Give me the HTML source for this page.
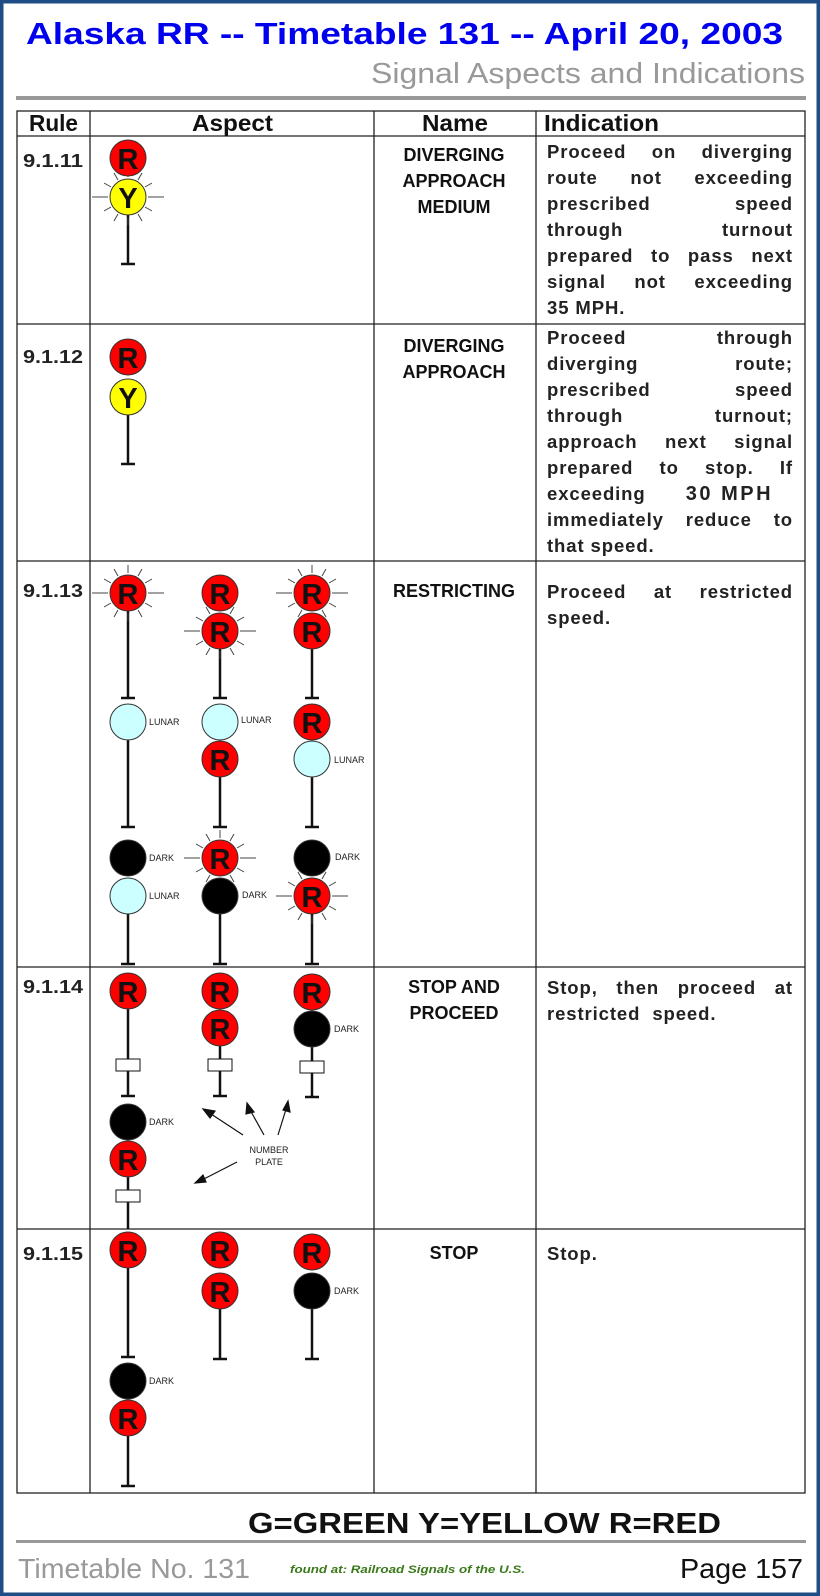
<!DOCTYPE html>
<html><head><meta charset="utf-8"><style>
body{margin:0;background:#fff}
#wrap{position:relative;width:820px;height:1596px;overflow:hidden}
.ind{position:absolute;left:547px;width:246px;font:bold 18.5px "Liberation Sans",sans-serif;letter-spacing:.9px;color:#222;line-height:20px;white-space:nowrap}
.j{text-align:justify;text-align-last:justify}
</style></head><body><div id="wrap">
<svg width="820" height="1596" xmlns="http://www.w3.org/2000/svg" style="position:absolute;left:0;top:0">
<defs>
<g id="rays" stroke="#444" stroke-width="1">
<line x1="20" y1="0" x2="36" y2="0"/><line x1="-20" y1="0" x2="-36" y2="0"/>
<line x1="17" y1="10" x2="24" y2="14"/><line x1="10" y1="17" x2="14" y2="24"/><line x1="0" y1="20" x2="0" y2="28"/>
<line x1="-10" y1="17" x2="-14" y2="24"/><line x1="-17" y1="10" x2="-24" y2="14"/>
<line x1="-17" y1="-10" x2="-24" y2="-14"/><line x1="-10" y1="-17" x2="-14" y2="-24"/><line x1="0" y1="-20" x2="0" y2="-28"/>
<line x1="10" y1="-17" x2="14" y2="-24"/><line x1="17" y1="-10" x2="24" y2="-14"/>
</g>
</defs>
<rect x="1.5" y="1.5" width="817" height="1593" fill="none" stroke="#1f4d86" stroke-width="4"/>
<text x="26" y="44" font-family="Liberation Sans" font-weight="bold" font-size="31" fill="#0000ee" textLength="757" lengthAdjust="spacingAndGlyphs">Alaska RR -- Timetable 131 -- April 20, 2003</text>
<text x="371" y="83" font-family="Liberation Sans" font-size="29" fill="#999" textLength="434" lengthAdjust="spacingAndGlyphs">Signal Aspects and Indications</text>
<rect x="16" y="96" width="790" height="4" fill="#999"/>
<g stroke="#222" stroke-width="1.3" fill="none">
<rect x="17" y="111" width="788" height="1382"/>
<line x1="17" y1="136" x2="805" y2="136"/>
<line x1="90" y1="111" x2="90" y2="1493"/><line x1="374" y1="111" x2="374" y2="1493"/><line x1="536" y1="111" x2="536" y2="1493"/>
<line x1="17" y1="324" x2="805" y2="324"/><line x1="17" y1="561" x2="805" y2="561"/><line x1="17" y1="967" x2="805" y2="967"/><line x1="17" y1="1229" x2="805" y2="1229"/>
</g>
<g font-family="Liberation Sans" font-weight="bold" font-size="23" fill="#111">
<text x="29" y="131" textLength="49" lengthAdjust="spacingAndGlyphs">Rule</text>
<text x="192" y="131" textLength="81" lengthAdjust="spacingAndGlyphs">Aspect</text>
<text x="422" y="131" textLength="66" lengthAdjust="spacingAndGlyphs">Name</text>
<text x="544" y="131" textLength="115" lengthAdjust="spacingAndGlyphs">Indication</text>
</g>
<g font-family="Liberation Sans" font-weight="bold" font-size="18" fill="#222">
<text x="23" y="167" textLength="60" lengthAdjust="spacingAndGlyphs">9.1.11</text>
<text x="23" y="363" textLength="60" lengthAdjust="spacingAndGlyphs">9.1.12</text>
<text x="23" y="597" textLength="60" lengthAdjust="spacingAndGlyphs">9.1.13</text>
<text x="23" y="993" textLength="60" lengthAdjust="spacingAndGlyphs">9.1.14</text>
<text x="23" y="1260" textLength="60" lengthAdjust="spacingAndGlyphs">9.1.15</text>
</g>
<g font-family="Liberation Sans" font-weight="bold" font-size="18" fill="#111" text-anchor="middle">
<text x="454" y="161">DIVERGING</text><text x="454" y="187">APPROACH</text><text x="454" y="213">MEDIUM</text>
<text x="454" y="352">DIVERGING</text><text x="454" y="378">APPROACH</text>
<text x="454" y="597">RESTRICTING</text>
<text x="454" y="993">STOP AND</text><text x="454" y="1019">PROCEED</text>
<text x="454" y="1259">STOP</text>
</g>
<g stroke="#111" stroke-width="2.5">
<line x1="128" y1="215" x2="128" y2="264"/><line x1="121" y1="264" x2="135" y2="264"/>
<line x1="128" y1="415" x2="128" y2="464"/><line x1="121" y1="464" x2="135" y2="464"/>
<line x1="128" y1="611" x2="128" y2="698"/><line x1="121" y1="698" x2="135" y2="698"/>
<line x1="128" y1="740" x2="128" y2="827"/><line x1="121" y1="827" x2="135" y2="827"/>
<line x1="128" y1="914" x2="128" y2="964"/><line x1="121" y1="964" x2="135" y2="964"/>
<line x1="220" y1="649" x2="220" y2="698"/><line x1="213" y1="698" x2="227" y2="698"/>
<line x1="220" y1="777" x2="220" y2="827"/><line x1="213" y1="827" x2="227" y2="827"/>
<line x1="220" y1="914" x2="220" y2="964"/><line x1="213" y1="964" x2="227" y2="964"/>
<line x1="312" y1="649" x2="312" y2="698"/><line x1="305" y1="698" x2="319" y2="698"/>
<line x1="312" y1="777" x2="312" y2="827"/><line x1="305" y1="827" x2="319" y2="827"/>
<line x1="312" y1="914" x2="312" y2="964"/><line x1="305" y1="964" x2="319" y2="964"/>
<line x1="128" y1="1009" x2="128" y2="1096"/><line x1="121" y1="1096" x2="135" y2="1096"/>
<line x1="128" y1="1177" x2="128" y2="1229"/>
<line x1="220" y1="1046" x2="220" y2="1096"/><line x1="213" y1="1096" x2="227" y2="1096"/>
<line x1="312" y1="1047" x2="312" y2="1097"/><line x1="305" y1="1097" x2="319" y2="1097"/>
<line x1="128" y1="1268" x2="128" y2="1357"/><line x1="121" y1="1357" x2="135" y2="1357"/>
<line x1="128" y1="1436" x2="128" y2="1486"/><line x1="121" y1="1486" x2="135" y2="1486"/>
<line x1="220" y1="1309" x2="220" y2="1359"/><line x1="213" y1="1359" x2="227" y2="1359"/>
<line x1="312" y1="1309" x2="312" y2="1359"/><line x1="305" y1="1359" x2="319" y2="1359"/>
</g>
<g fill="#fff" stroke="#111" stroke-width="1">
<rect x="116" y="1059" width="24" height="12"/><rect x="116" y="1190" width="24" height="12"/>
<rect x="208" y="1059" width="24" height="12"/><rect x="300" y="1061" width="24" height="12"/>
</g>
<use href="#rays" x="128" y="197"/>
<use href="#rays" x="128" y="593"/><use href="#rays" x="220" y="631"/><use href="#rays" x="312" y="593"/>
<use href="#rays" x="220" y="858"/><use href="#rays" x="312" y="896"/>
<g stroke="#333" stroke-width="1">
<circle cx="128" cy="197" r="18" fill="#ffff00"/><circle cx="128" cy="158" r="18" fill="#ff0000"/>
<circle cx="128" cy="397" r="18" fill="#ffff00"/><circle cx="128" cy="357" r="18" fill="#ff0000"/>
<circle cx="128" cy="593" r="18" fill="#ff0000"/><circle cx="128" cy="722" r="18" fill="#ccffff"/>
<circle cx="128" cy="896" r="18" fill="#ccffff"/><circle cx="128" cy="858" r="18" fill="#000"/>
<circle cx="220" cy="631" r="18" fill="#ff0000"/><circle cx="220" cy="593" r="18" fill="#ff0000"/>
<circle cx="220" cy="759" r="18" fill="#ff0000"/><circle cx="220" cy="722" r="18" fill="#ccffff"/>
<circle cx="220" cy="896" r="18" fill="#000"/><circle cx="220" cy="858" r="18" fill="#ff0000"/>
<circle cx="312" cy="631" r="18" fill="#ff0000"/><circle cx="312" cy="593" r="18" fill="#ff0000"/>
<circle cx="312" cy="759" r="18" fill="#ccffff"/><circle cx="312" cy="722" r="18" fill="#ff0000"/>
<circle cx="312" cy="896" r="18" fill="#ff0000"/><circle cx="312" cy="858" r="18" fill="#000"/>
<circle cx="128" cy="991" r="18" fill="#ff0000"/>
<circle cx="128" cy="1159" r="18" fill="#ff0000"/><circle cx="128" cy="1122" r="18" fill="#000"/>
<circle cx="220" cy="1028" r="18" fill="#ff0000"/><circle cx="220" cy="991" r="18" fill="#ff0000"/>
<circle cx="312" cy="1029" r="18" fill="#000"/><circle cx="312" cy="992" r="18" fill="#ff0000"/>
<circle cx="128" cy="1250" r="18" fill="#ff0000"/>
<circle cx="128" cy="1418" r="18" fill="#ff0000"/><circle cx="128" cy="1381" r="18" fill="#000"/>
<circle cx="220" cy="1291" r="18" fill="#ff0000"/><circle cx="220" cy="1250" r="18" fill="#ff0000"/>
<circle cx="312" cy="1291" r="18" fill="#000"/><circle cx="312" cy="1252" r="18" fill="#ff0000"/>
</g>
<g font-family="Liberation Sans" font-weight="bold" font-size="29" fill="#111" text-anchor="middle">
<text x="128" y="169">R</text><text x="128" y="208">Y</text>
<text x="128" y="368">R</text><text x="128" y="408">Y</text>
<text x="128" y="604">R</text>
<text x="220" y="604">R</text><text x="220" y="642">R</text><text x="220" y="770">R</text><text x="220" y="869">R</text>
<text x="312" y="604">R</text><text x="312" y="642">R</text><text x="312" y="733">R</text><text x="312" y="907">R</text>
<text x="128" y="1002">R</text><text x="128" y="1170">R</text>
<text x="220" y="1002">R</text><text x="220" y="1039">R</text><text x="312" y="1003">R</text>
<text x="128" y="1261">R</text><text x="128" y="1429">R</text>
<text x="220" y="1261">R</text><text x="220" y="1302">R</text><text x="312" y="1263">R</text>
</g>
<g font-family="Liberation Sans" font-size="9" fill="#222">
<text x="149" y="725">LUNAR</text><text x="241" y="723">LUNAR</text><text x="334" y="763">LUNAR</text>
<text x="149" y="861">DARK</text><text x="149" y="899">LUNAR</text><text x="242" y="898">DARK</text><text x="335" y="860">DARK</text>
<text x="149" y="1125">DARK</text><text x="334" y="1032">DARK</text>
<text x="149" y="1384">DARK</text><text x="334" y="1294">DARK</text>
<text x="269" y="1153" text-anchor="middle">NUMBER</text><text x="269" y="1165" text-anchor="middle">PLATE</text>
</g>
<g stroke="#111" stroke-width="1.2" fill="#111">
<line x1="243" y1="1135" x2="208" y2="1112"/><polygon points="203,1109 215,1111 210,1118"/>
<line x1="264" y1="1135" x2="249" y2="1108"/><polygon points="247,1103 254,1112 246,1114"/>
<line x1="278" y1="1135" x2="287" y2="1106"/><polygon points="288,1101 290,1112 283,1110"/>
<line x1="237" y1="1162" x2="200" y2="1181"/><polygon points="195,1183 203,1175 206,1182"/>
</g>
<text x="248" y="1533" font-family="Liberation Sans" font-weight="bold" font-size="29" fill="#111" textLength="473" lengthAdjust="spacingAndGlyphs">G=GREEN Y=YELLOW R=RED</text>
<rect x="16" y="1540" width="790" height="3" fill="#999"/>
<text x="18" y="1578" font-family="Liberation Sans" font-size="28" fill="#999" textLength="232" lengthAdjust="spacingAndGlyphs">Timetable No. 131</text>
<text x="290" y="1573" font-family="Liberation Sans" font-style="italic" font-weight="bold" font-size="11" fill="#3a7a1a" textLength="235" lengthAdjust="spacingAndGlyphs">found at: Railroad Signals of the U.S.</text>
<text x="680" y="1578" font-family="Liberation Sans" font-size="28" fill="#111" textLength="123" lengthAdjust="spacingAndGlyphs">Page 157</text>
</svg>
<div class="ind j" style="top:142px">Proceed on diverging</div>
<div class="ind j" style="top:168px">route not exceeding</div>
<div class="ind j" style="top:194px">prescribed speed</div>
<div class="ind j" style="top:220px">through turnout</div>
<div class="ind j" style="top:246px">prepared to pass next</div>
<div class="ind j" style="top:272px">signal not exceeding</div>
<div class="ind" style="top:298px">35 MPH.</div>
<div class="ind j" style="top:328px">Proceed through</div>
<div class="ind j" style="top:354px">diverging route;</div>
<div class="ind j" style="top:380px">prescribed speed</div>
<div class="ind j" style="top:406px">through turnout;</div>
<div class="ind j" style="top:432px">approach next signal</div>
<div class="ind j" style="top:458px">prepared to stop. If</div>
<div class="ind" style="top:484px">exceeding&nbsp;&nbsp;&nbsp;&nbsp;&nbsp;<span style="font-size:20px;letter-spacing:2.5px;margin-left:10px">30 MPH</span></div>
<div class="ind j" style="top:510px">immediately reduce to</div>
<div class="ind" style="top:536px">that speed.</div>
<div class="ind j" style="top:582px">Proceed at restricted</div>
<div class="ind" style="top:608px">speed.</div>
<div class="ind j" style="top:978px">Stop, then proceed at</div>
<div class="ind" style="top:1004px;word-spacing:6px">restricted speed.</div>
<div class="ind" style="top:1244px">Stop.</div>
</div></body></html>
